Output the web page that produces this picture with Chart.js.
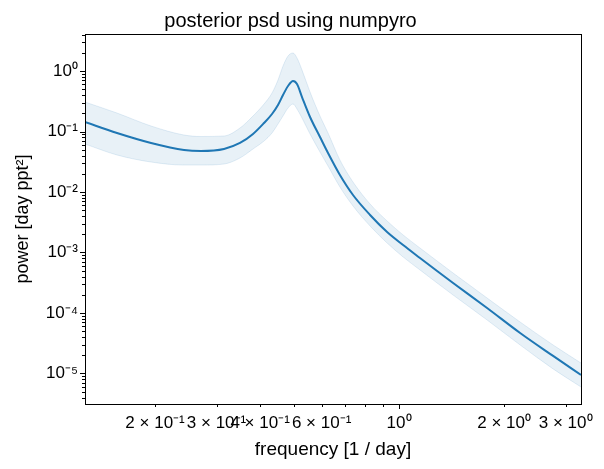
<!DOCTYPE html>
<html>
<head>
<meta charset="utf-8">
<script src="https://cdn.jsdelivr.net/npm/chart.js@4.4.1/dist/chart.umd.min.js"></script>
<style>
  html, body { margin: 0; padding: 0; background: #fff; }
  #wrap { width: 604px; height: 469px; position: relative; }
</style>
</head>
<body>
<div id="wrap"><canvas id="psdChart"></canvas></div>
<script>
// posterior psd
const freq = [0.1260, 0.1556, 0.1948, 0.2421, 0.2708, 0.3152, 0.3502, 0.3816, 0.4104, 0.4326, 0.4500,
              0.4651, 0.4807, 0.4969, 0.5101, 0.5272, 0.5559, 0.5936, 0.6259, 0.677, 0.738, 0.826,
              0.924, 1.027, 1.148, 1.285, 1.428, 1.787, 2.222, 2.762, 3.32];
const psdMedian = [0.1436, 0.0945, 0.0646, 0.0495, 0.0476, 0.0514, 0.0646, 0.0910, 0.1382, 0.1947, 0.2742,
                   0.4012, 0.5649, 0.6834, 0.6097, 0.3716, 0.1738, 0.0811, 0.0441, 0.0191, 0.00892, 0.00417,
                   0.00218, 0.00133, 8.11e-4, 4.94e-4, 3.13e-4, 1.21e-4, 4.67e-5, 1.95e-5, 9.44e-6];
const psdUpper = [0.307, 0.202, 0.1233, 0.0875, 0.0827, 0.0843, 0.1143, 0.1804, 0.2847, 0.4329, 0.710,
                  1.209, 1.770, 1.984, 1.640, 1.039, 0.4498, 0.1804, 0.0945, 0.0338, 0.01463, 0.00633,
                  0.00332, 0.00195, 0.001186, 7.24e-4, 4.58e-4, 1.77e-4, 7.10e-5, 2.96e-5, 1.49e-5];
const psdLower = [0.0621, 0.0409, 0.0313, 0.0279, 0.0279, 0.0290, 0.0365, 0.0514, 0.0697, 0.0945, 0.1330,
                  0.1804, 0.2446, 0.2847, 0.2355, 0.1672, 0.0910, 0.0458, 0.0269, 0.01210, 0.00587, 0.00274,
                  0.001436, 8.43e-4, 5.14e-4, 3.13e-4, 1.98e-4, 7.66e-5, 2.96e-5, 1.19e-5, 5.98e-6];

// tick labels
const xTickValues = [0.2, 0.3, 0.4, 0.5, 0.6, 0.7, 0.8, 0.9, 1, 2, 3];
const xTickLabels = ['2 × 10⁻¹', '3 × 10⁻¹', '4 × 10⁻¹', '', '6 × 10⁻¹', '', '', '',
                     '10⁰', '2 × 10⁰', '3 × 10⁰'];
const xMajor = [1];
const yTickValues = [1, 0.1, 0.01, 0.001, 1e-4, 1e-5];
const yTickLabels = ['10⁰', '10⁻¹', '10⁻²', '10⁻³', '10⁻⁴', '10⁻⁵'];

const xMin = 0.126, xMax = 3.32;
const yMin = 3.13e-6, yMax = 4.09;

const blue = '#1f77b4';
const font = 'Liberation Sans, Arial, sans-serif';

function pts(ys) {
    return freq.map((f, i) => ({ x: f, y: ys[i] }));
}

function yMinorTicks() {
    const out = [];
    for (let e = -6; e <= 0; e++) {
        for (let m = 1; m <= 9; m++) {
            const v = m * Math.pow(10, e);
            if (v >= yMin && v <= yMax) out.push({ value: v, major: m === 1 });
        }
    }
    return out;
}

// matplotlib style frame + major/minor tick marks
const frameTicks = {
    id: 'frameTicks',
    afterDraw(chart) {
        const { ctx, chartArea: a } = chart;
        const xs = chart.scales.x, ys = chart.scales.y;
        ctx.save();
        ctx.strokeStyle = '#000';
        ctx.lineWidth = 1;
        xs.ticks.forEach(t => {
            const px = Math.round(xs.getPixelForValue(t.value)) + 0.5;
            const len = t.major ? 5 : 3;
            ctx.beginPath();
            ctx.moveTo(px, a.bottom);
            ctx.lineTo(px, a.bottom + len);
            ctx.stroke();
        });
        ys.ticks.forEach(t => {
            const py = Math.round(ys.getPixelForValue(t.value)) + 0.5;
            const len = t.major ? 5 : 3;
            ctx.beginPath();
            ctx.moveTo(a.left, py);
            ctx.lineTo(a.left - len, py);
            ctx.stroke();
        });
        ctx.strokeRect(Math.round(a.left) + 0.5, Math.round(a.top) + 0.5,
                       Math.round(a.right - a.left), Math.round(a.bottom - a.top));
        ctx.restore();
    }
};

new Chart(document.getElementById('psdChart'), {
    type: 'line',
    data: {
        datasets: [
            {
                label: 'median',
                data: pts(psdMedian),
                borderColor: blue,
                borderWidth: 2,
                pointRadius: 0,
                fill: false,
                cubicInterpolationMode: 'monotone',
                order: 0
            },
            {
                label: 'upper',
                data: pts(psdUpper),
                borderColor: 'rgba(31,119,180,0.12)',
                borderWidth: 1,
                backgroundColor: 'rgba(31,119,180,0.1)',
                pointRadius: 0,
                fill: 2,
                cubicInterpolationMode: 'monotone',
                order: 1
            },
            {
                label: 'lower',
                data: pts(psdLower),
                borderColor: 'rgba(31,119,180,0.12)',
                borderWidth: 1,
                pointRadius: 0,
                fill: false,
                cubicInterpolationMode: 'monotone',
                order: 2
            }
        ]
    },
    options: {
        responsive: true,
        maintainAspectRatio: false,
        animation: false,
        layout: { padding: { left: 0, right: 23, top: 0, bottom: 0 } },
        plugins: {
            legend: { display: false },
            tooltip: { enabled: false },
            title: {
                display: true,
                text: 'posterior psd using numpyro',
                color: '#000',
                font: { family: font, size: 20, weight: 'normal' },
                padding: { top: 9, bottom: 1 }
            }
        },
        scales: {
            x: {
                type: 'logarithmic',
                min: xMin,
                max: xMax,
                border: { display: false },
                grid: { drawOnChartArea: false, drawTicks: false },
                afterBuildTicks: s => {
                    s.ticks = xTickValues.map(v => ({ value: v, major: xMajor.includes(v) }));
                },
                afterFit: s => { s.height = 65; },
                ticks: {
                    autoSkip: false,
                    maxRotation: 0,
                    minRotation: 0,
                    padding: 9,
                    color: '#000',
                    font: { family: font, size: 17 },
                    callback: (v) => {
                        const i = xTickValues.indexOf(v);
                        return i >= 0 ? xTickLabels[i] : '';
                    }
                },
                title: {
                    display: true,
                    text: 'frequency [1 / day]',
                    color: '#000',
                    font: { family: font, size: 19 },
                    padding: { top: 0, bottom: 8 }
                }
            },
            y: {
                type: 'logarithmic',
                min: yMin,
                max: yMax,
                border: { display: false },
                grid: { drawOnChartArea: false, drawTicks: false },
                afterBuildTicks: s => { s.ticks = yMinorTicks(); },
                afterFit: s => { s.width = 85; },
                ticks: {
                    autoSkip: false,
                    padding: 7,
                    color: '#000',
                    font: { family: font, size: 17 },
                    callback: (v) => {
                        const i = yTickValues.findIndex(t => Math.abs(t - v) / t < 1e-6);
                        return i >= 0 ? yTickLabels[i] : '';
                    }
                },
                title: {
                    display: true,
                    text: 'power [day ppt²]',
                    color: '#000',
                    font: { family: font, size: 18 },
                    padding: { top: 12, bottom: 0 }
                }
            }
        }
    },
    plugins: [frameTicks]
});
</script>
</body>
</html>
